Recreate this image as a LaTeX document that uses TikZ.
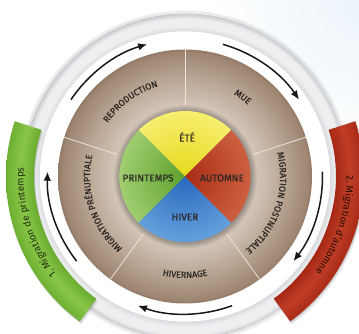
\documentclass[tikz,border=0pt]{standalone}
\usepackage{fontspec}
\newfontfamily\labfont{Fira Sans}
\newfontfamily\labfontb{Fira Sans}[FakeBold=0.5]
\usetikzlibrary{arrows.meta,decorations.text}
\newcommand\rgfont{\labfontb\fontsize{9}{10}\selectfont}
\newcommand\qdfont{\labfontb\fontsize{10}{12}\selectfont}
\newcommand\bdfont{\labfont\fontsize{9.8}{11}\selectfont}
\definecolor{bgblue}{RGB}{232,242,249}
\definecolor{gyA}{RGB}{216,217,220}
\definecolor{gyB}{RGB}{238,239,241}
\definecolor{gyC}{RGB}{200,201,204}
\definecolor{brshadow}{RGB}{150,142,134}
\definecolor{brlight}{RGB}{210,196,182}
\definecolor{brmid}{RGB}{184,164,146}
\definecolor{brdark}{RGB}{158,134,114}
\definecolor{bredge}{RGB}{146,122,102}
\definecolor{gbA}{RGB}{106,172,46}
\definecolor{gbB}{RGB}{136,198,72}
\definecolor{gbC}{RGB}{110,176,50}
\definecolor{rbA}{RGB}{166,40,20}
\definecolor{rbB}{RGB}{192,62,38}
\definecolor{rbC}{RGB}{168,42,22}
\definecolor{yin}{RGB}{232,216,28}
\definecolor{yout}{RGB}{246,238,110}
\definecolor{gin}{RGB}{92,160,44}
\definecolor{gout}{RGB}{160,205,112}
\definecolor{rin}{RGB}{168,44,22}
\definecolor{rout}{RGB}{204,96,64}
\definecolor{bin}{RGB}{40,104,190}
\definecolor{bout}{RGB}{100,160,220}
\definecolor{txt}{RGB}{44,40,36}
\definecolor{gtxt}{RGB}{30,44,14}
\definecolor{rtxt}{RGB}{40,12,6}
\definecolor{divline}{RGB}{236,228,218}
\definecolor{arrowc}{RGB}{24,24,24}
\pgfdeclareradialshading{brownring}{\pgfpoint{0bp}{0bp}}{color(0bp)=(brshadow); color(12.9bp)=(brshadow); color(14.2bp)=(brlight); color(19.7bp)=(brmid); color(24.3bp)=(brdark); color(25bp)=(bredge); color(50bp)=(bredge)}
\pgfdeclareradialshading{grayband}{\pgfpoint{0bp}{0bp}}{color(0bp)=(gyA); color(22.2bp)=(gyA); color(23.1bp)=(gyB); color(24.2bp)=(gyB); color(25bp)=(gyC); color(50bp)=(gyC)}
\pgfdeclareradialshading{greenband}{\pgfpoint{0bp}{0bp}}{color(0bp)=(gbA); color(21.1bp)=(gbA); color(23.0bp)=(gbB); color(25bp)=(gbC); color(50bp)=(gbC)}
\pgfdeclareradialshading{redband}{\pgfpoint{0bp}{0bp}}{color(0bp)=(rbA); color(21.1bp)=(rbA); color(23.0bp)=(rbB); color(25bp)=(rbC); color(50bp)=(rbC)}
\begin{document}
\begin{tikzpicture}[x=1pt,y=1pt,
  arr/.style={draw=arrowc, line width=1.5pt, -{Latex[length=9pt,width=7.5pt]}},
  ringtext/.style={decorate, decoration={text along path, text align=center, text color=txt, text={|\rgfont|#1}}},
  qlabel/.style={font=\qdfont, text=txt, inner sep=0pt},
  divider/.style={draw=divline, line width=0.8pt}]
\useasboundingbox (0,0) rectangle (359,334);
\clip (0,0) rectangle (359,334);
\fill[white] (0,0) rectangle (359,334);
\shade[inner color=bgblue, outer color=white] (380,350) circle[radius=170];
\begin{scope}[shift={(185,157.5)}]
  \coordinate (C) at (0,0);
  % outer halo and grey band
  \foreach \i/\o in {1/0.10,2/0.06,3/0.03}
    \draw[black,opacity=\o,line width=1pt] (C) circle[radius=163+\i];
  \shade[shading=grayband, even odd rule] (C) circle[radius=163] (C) circle[radius=145];
  \fill[white] (C) circle[radius=145];
  % band shadows
  \foreach \d/\o in {1/0.12,2.2/0.08,3.4/0.05} {
    \fill[black,opacity=\o,shift={(\d*0.5,-\d)}] (162:151) arc[start angle=162,end angle=234,radius=151] -- (234:179) arc[start angle=234,end angle=162,radius=179] -- cycle;
    \fill[black,opacity=\o,shift={(\d*0.5,-\d)}] (-54:151) arc[start angle=-54,end angle=18,radius=151] -- (18:179) arc[start angle=18,end angle=-54,radius=179] -- cycle;
  }
  % green band
  \begin{scope}
    \clip (162:151) arc[start angle=162,end angle=234,radius=151] -- (234:179) arc[start angle=234,end angle=162,radius=179] -- cycle;
    \shade[shading=greenband] (C) circle[radius=179];
  \end{scope}
  % red band
  \begin{scope}
    \clip (-54:151) arc[start angle=-54,end angle=18,radius=151] -- (18:179) arc[start angle=18,end angle=-54,radius=179] -- cycle;
    \shade[shading=redband] (C) circle[radius=179];
  \end{scope}
  \path[decorate, decoration={text along path, text align=center, text color=gtxt, text={|\bdfont|1. Migration de printemps}}] (238:161.5) arc[start angle=238,end angle=156,radius=161.5];
  \path[decorate, decoration={text along path, text align=center, text color=rtxt, text={|\bdfont|2. Migration d’automne}}] (22:161.5) arc[start angle=22,end angle=-58,radius=161.5];
  % arrows
  \draw[arr] (146:137.5) arc[start angle=146,end angle=106,radius=137.5];
  \draw[arr] (74:137.5) arc[start angle=74,end angle=34,radius=137.5];
  \draw[arr] (2:137.5) arc[start angle=2,end angle=-38,radius=137.5];
  \draw[arr] (-70:137.5) arc[start angle=-70,end angle=-110,radius=137.5];
  \draw[arr] (218:137.5) arc[start angle=218,end angle=178,radius=137.5];
  % brown ring
  \shade[shading=brownring] (C) circle[radius=127];
  \foreach \a in {18,90,162,234,306}
    \draw[divider] (\a:71) -- (\a:127);
  % inner quadrants
  \foreach \a/\ci/\co in {45/yin/yout,135/gin/gout,225/bin/bout,315/rin/rout} {
    \begin{scope}
      \clip (C) -- (\a:65.5) arc[start angle=\a,end angle=\a+90,radius=65.5] -- cycle;
      \shade[inner color=\ci, outer color=\co] (C) circle[radius=65.5];
    \end{scope}
  }
  % ring labels
  \path[ringtext=REPRODUCTION] (166:94) arc[start angle=166,end angle=86,radius=94];
  \path[ringtext=MUE] (94:95.5) arc[start angle=94,end angle=14,radius=95.5];
  \path[ringtext=MIGRATION POSTNUPTIALE] (22:95) arc[start angle=22,end angle=-58,radius=95];
  \path[ringtext=HIVERNAGE] (230:101.5) arc[start angle=230,end angle=310,radius=101.5];
  \path[ringtext=MIGRATION PRÉNUPTIALE] (238:95) arc[start angle=238,end angle=158,radius=95];
  % quadrant labels
  \node[qlabel] (ete) at (2,39.5) {ÉTÉ};
  \node[qlabel] (printemps) at (-37,-1.5) {PRINTEMPS};
  \node[qlabel] (automne) at (37,-1.5) {AUTOMNE};
  \node[qlabel] (hiver) at (0,-40.5) {HIVER};
\end{scope}
\end{tikzpicture}
\end{document}
